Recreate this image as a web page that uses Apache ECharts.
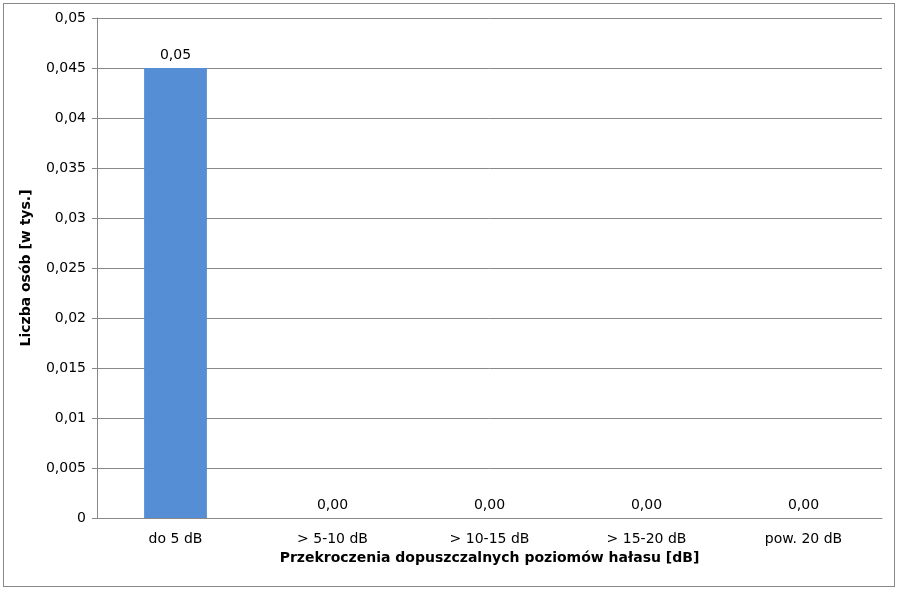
<!DOCTYPE html>
<html><head><meta charset="utf-8">
<script src="https://cdn.jsdelivr.net/npm/echarts@6/dist/echarts.min.js"></script>
<style>
body{margin:0;background:#fff}
#c{position:absolute;left:3px;top:3px;width:892px;height:584px;border:1px solid #888;box-sizing:border-box}
</style></head><body>
<div id="c"></div>
<script>
var categories = ['do 5 dB', '> 5-10 dB', '> 10-15 dB', '> 15-20 dB', 'pow. 20 dB'];
var values = [0.045, 0, 0, 0, 0];
var labels = ['0,05', '0,00', '0,00', '0,00', '0,00'];

var chart = echarts.init(document.getElementById('c'));
var font = 'DejaVu Sans, Verdana, sans-serif';
chart.setOption({
    animation: false,
    grid: { left: 93, right: 12, top: 14, bottom: 68 },
    xAxis: {
        type: 'category',
        data: categories,
        name: 'Przekroczenia dopuszczalnych poziomów hałasu [dB]',
        nameLocation: 'middle',
        nameGap: 27,
        nameTextStyle: { fontFamily: font, fontSize: 14, fontWeight: 'bold', color: '#000' },
        axisLine: { lineStyle: { color: '#888' } },
        axisTick: { lineStyle: { color: '#888' }, length: 5 },
        axisLabel: { fontFamily: font, fontSize: 14, color: '#000', margin: 14 }
    },
    yAxis: {
        type: 'value',
        min: 0, max: 0.05, interval: 0.005,
        name: 'Liczba osób [w tys.]',
        nameLocation: 'middle',
        nameGap: 64,
        nameTextStyle: { fontFamily: font, fontSize: 14, fontWeight: 'bold', color: '#000' },
        axisLine: { show: true, lineStyle: { color: '#888' } },
        axisTick: { show: true, lineStyle: { color: '#888' }, length: 5 },
        splitLine: { lineStyle: { color: '#888' } },
        axisLabel: {
            fontFamily: font, fontSize: 14, color: '#000', margin: 11,
            formatter: function (v) { return String(+v.toFixed(3)).replace('.', ','); }
        }
    },
    series: [{
        type: 'bar',
        data: values,
        barWidth: '40%',
        itemStyle: { color: '#558ed5' },
        label: {
            show: true, position: 'top', distance: 6,
            fontFamily: font, fontSize: 14, color: '#000',
            formatter: function (p) { return labels[p.dataIndex]; }
        }
    }]
});
</script>
</body></html>
